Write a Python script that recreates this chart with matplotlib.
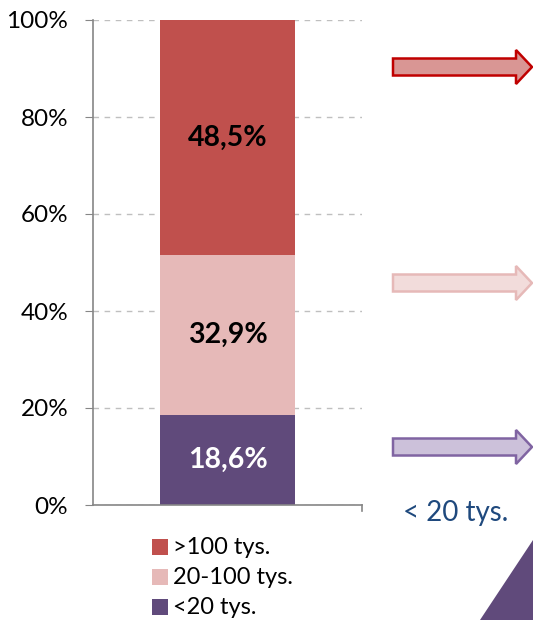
import matplotlib
matplotlib.use("Agg")
import matplotlib.pyplot as plt
from matplotlib.patches import Polygon, Rectangle
from matplotlib.ticker import FuncFormatter

plt.rcParams['font.family'] = ['Lato', 'DejaVu Sans']

categories = ["<20 tys.", "20-100 tys.", ">100 tys."]
shares = [18.6, 32.9, 48.5]
colors = ["#604A7B", "#E6B9B8", "#C0504D"]
label_colors = ["white", "black", "black"]
y_ticks = [0, 20, 40, 60, 80, 100]

W, H = 533, 620
fig = plt.figure(figsize=(W / 100, H / 100), dpi=100)
fig.patch.set_facecolor("white")

# main stacked bar axes (pixel box: x 93..362, y 20..505)
ax = fig.add_axes([93 / W, 1 - 505 / H, (362 - 93) / W, (505 - 20) / H])
bottom = 0
for cat, val, col, lc in zip(categories, shares, colors, label_colors):
    ax.bar(0, val, width=0.5, bottom=bottom, color=col, zorder=2)
    ax.text(0, bottom + val / 2, f"{val:.1f}%".replace(".", ","), ha="center",
            va="center", fontsize=20.5, fontweight="bold", color=lc, zorder=3)
    bottom += val

ax.set_xlim(-0.5, 0.5)
ax.set_ylim(0, 100)
ax.set_yticks(y_ticks)
ax.yaxis.set_major_formatter(FuncFormatter(lambda v, p: f"{v:.0f}%"))
ax.tick_params(axis="y", labelsize=17.5, length=5.8, color="#868686", pad=12)
ax.set_xticks([])
ax.grid(axis="y", color="#BFBFBF", linestyle=(0, (4, 4)), linewidth=1, zorder=0)
for s in ["top", "right"]:
    ax.spines[s].set_visible(False)
for s in ["left", "bottom"]:
    ax.spines[s].set_color("#868686")
    ax.spines[s].set_linewidth(1.2)
# small tick at right end of the category axis
ax.plot([0.5, 0.5], [0, -1.2], color="#868686", lw=1.2, clip_on=False)

# overlay in pixel coordinates for arrows, legend and corner shape
ov = fig.add_axes([0, 0, 1, 1], zorder=5)
ov.set_xlim(0, W)
ov.set_ylim(H, 0)
ov.axis("off")
ov.patch.set_alpha(0)


def arrow(yc, face, edge):
    x0, xh, xt = 393, 516, 532
    bh, hh = 8.5, 17
    pts = [(x0, yc - bh), (xh, yc - bh), (xh, yc - hh), (xt, yc),
           (xh, yc + hh), (xh, yc + bh), (x0, yc + bh)]
    ov.add_patch(Polygon(pts, closed=True, facecolor=face, edgecolor=edge, lw=1.8))


arrow(67, "#D99694", "#C00000")
arrow(283, "#F2DCDB", "#E6B9B8")
arrow(447, "#CCC1DA", "#8064A2")

ov.text(456, 513, "< 20 tys.", ha="center", va="center", fontsize=20, color="#1F497D")
ov.add_patch(Polygon([(480, 620), (533, 540), (533, 620)], closed=True,
                     facecolor="#604A7B", edgecolor="none"))

# legend, largest group first
for i, (cat, col) in enumerate(zip(categories[::-1], colors[::-1])):
    yc = 547 + i * 30
    ov.add_patch(Rectangle((152, yc - 8), 16, 16, facecolor=col, edgecolor="none"))
    ov.text(173, yc, cat, ha="left", va="center", fontsize=17, color="black")

fig.savefig("out.png", dpi=100, facecolor="white")
